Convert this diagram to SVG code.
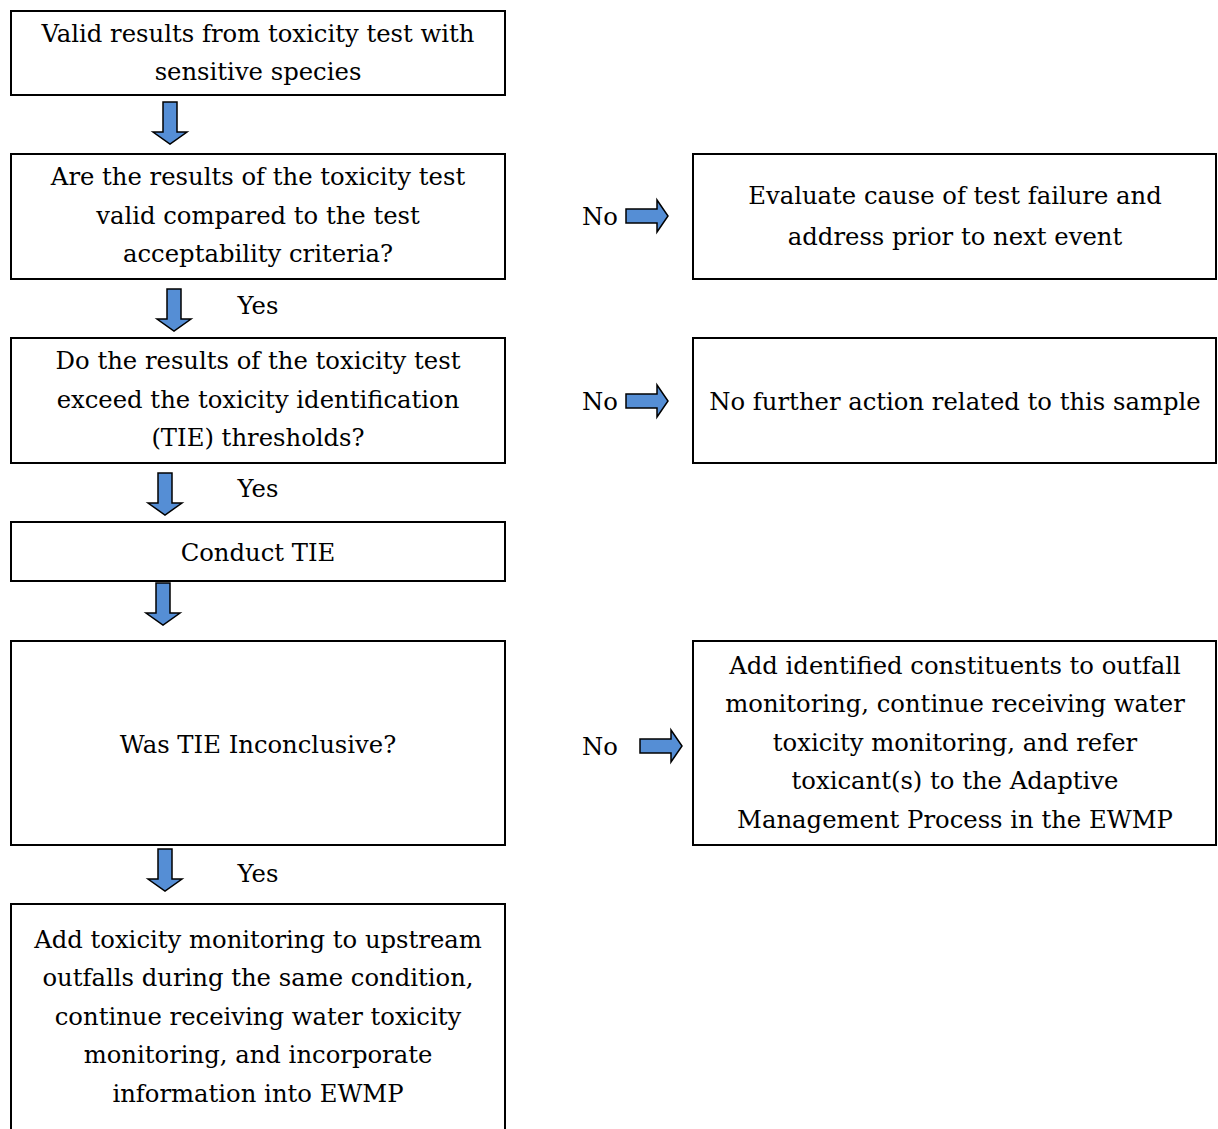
<svg xmlns="http://www.w3.org/2000/svg" width="1218" height="1129" viewBox="0 0 1218 1129">
<style>
.box{fill:#fff;stroke:#000;stroke-width:2}
.t{font-family:"DejaVu Serif",serif;font-size:24.3px;fill:#000;text-anchor:middle}
.arr{fill:#558ED5;stroke:#000;stroke-width:1.5;stroke-linejoin:miter}
</style>
<defs>
<path id="down" class="arr" d="M-7,0 H7 V30 H17 L0,42 L-17,30 H-7 Z"/>
<path id="right" class="arr" d="M0,-7 V7 H31 V16 L42,0 L31,-16 V-7 Z"/>
</defs>
<g id="n1"><rect class="box" x="11" y="11" width="494" height="84"/>
<text class="t" x="258" y="42">Valid results from toxicity test with</text>
<text class="t" x="258" y="80">sensitive species</text></g>
<g id="n2"><rect class="box" x="11" y="154" width="494" height="125"/>
<text class="t" x="258" y="185">Are the results of the toxicity test</text>
<text class="t" x="258" y="224">valid compared to the test</text>
<text class="t" x="258" y="262">acceptability criteria?</text></g>
<g id="n3"><rect class="box" x="11" y="338" width="494" height="125"/>
<text class="t" x="258" y="369">Do the results of the toxicity test</text>
<text class="t" x="258" y="408">exceed the toxicity identification</text>
<text class="t" x="258" y="446">(TIE) thresholds?</text></g>
<g id="n4"><rect class="box" x="11" y="522" width="494" height="59"/>
<text class="t" x="258" y="561">Conduct TIE</text></g>
<g id="n5"><rect class="box" x="11" y="641" width="494" height="204"/>
<text class="t" x="258" y="753">Was TIE Inconclusive?</text></g>
<g id="n6"><rect class="box" x="11" y="904" width="494" height="240"/>
<text class="t" x="258" y="948">Add toxicity monitoring to upstream</text>
<text class="t" x="258" y="986">outfalls during the same condition,</text>
<text class="t" x="258" y="1025">continue receiving water toxicity</text>
<text class="t" x="258" y="1063">monitoring, and incorporate</text>
<text class="t" x="258" y="1102">information into EWMP</text></g>
<g id="r1"><rect class="box" x="693" y="154" width="523" height="125"/>
<text class="t" x="955" y="204">Evaluate cause of test failure and</text>
<text class="t" x="955" y="245">address prior to next event</text></g>
<g id="r2"><rect class="box" x="693" y="338" width="523" height="125"/>
<text class="t" x="955" y="410">No further action related to this sample</text></g>
<g id="r3"><rect class="box" x="693" y="641" width="523" height="204"/>
<text class="t" x="955" y="674">Add identified constituents to outfall</text>
<text class="t" x="955" y="712">monitoring, continue receiving water</text>
<text class="t" x="955" y="751">toxicity monitoring, and refer</text>
<text class="t" x="955" y="789">toxicant(s) to the Adaptive</text>
<text class="t" x="955" y="828">Management Process in the EWMP</text></g>
<g id="connectors">
<use href="#down" x="170" y="102"/>
<use href="#down" x="174" y="289"/>
<use href="#down" x="165" y="473"/>
<use href="#down" x="163" y="583"/>
<use href="#down" x="165" y="849"/>
<use href="#right" x="626" y="216"/>
<use href="#right" x="626" y="401"/>
<use href="#right" x="640" y="746"/>
<text class="t" x="600" y="225">No</text>
<text class="t" x="600" y="410">No</text>
<text class="t" x="600" y="755">No</text>
<text class="t" x="258" y="314">Yes</text>
<text class="t" x="258" y="497">Yes</text>
<text class="t" x="258" y="882">Yes</text>
</g>
</svg>
